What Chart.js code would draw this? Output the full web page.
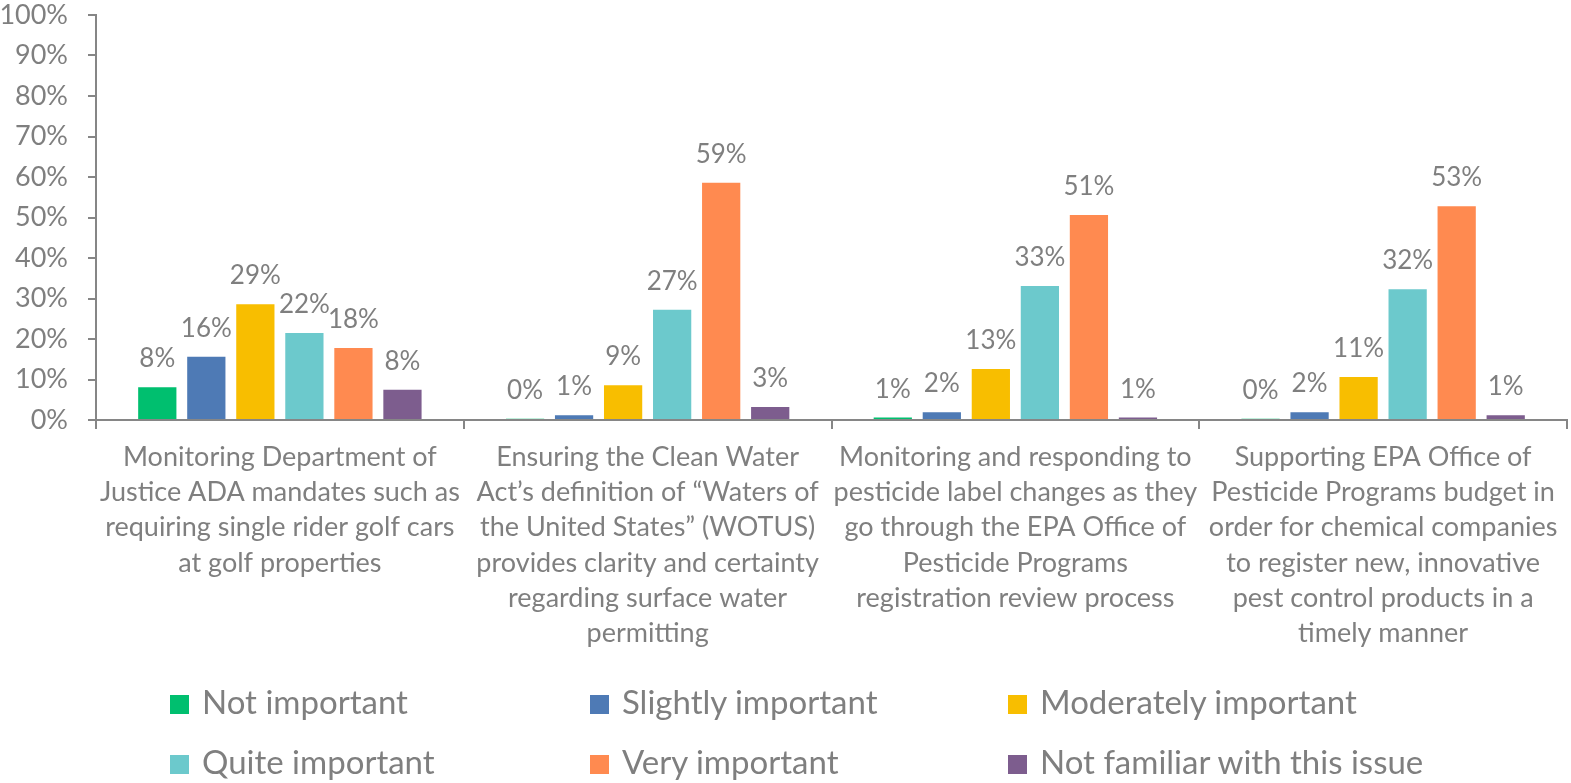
<!DOCTYPE html>
<html>
<head>
<meta charset="utf-8">
<script src="https://cdn.jsdelivr.net/npm/chart.js@4"></script>
<style>
  html, body { margin: 0; padding: 0; background: #fff; }
  #wrap { position: relative; width: 1571px; height: 783px; }
  #c { position: absolute; left: 0; top: 0; }
  .lg { position: absolute; font-family: Lato, "Open Sans", sans-serif; font-size: 33px; color: #7f7f7f; white-space: nowrap; line-height: 33px; }
  .lg span.box { display: inline-block; width: 19px; height: 19px; margin-right: 13px; vertical-align: 0px; }
</style>
</head>
<body>
<div id="wrap">
  <canvas id="c" width="1571" height="783"></canvas>
  <div id="legend"></div>
</div>
<script>
const categories = [
  ["Monitoring Department of", "Justice ADA mandates such as", "requiring single rider golf cars", "at golf properties"],
  ["Ensuring the Clean Water", "Act\u2019s definition of \u201cWaters of", "the United States\u201d (WOTUS)", "provides clarity and certainty", "regarding surface water", "permitting"],
  ["Monitoring and responding to", "pesticide label changes as they", "go through the EPA Office of", "Pesticide Programs", "registration review process"],
  ["Supporting EPA Office of", "Pesticide Programs budget in", "order for chemical companies", "to register new, innovative", "pest control products in a", "timely manner"]
];
const seriesNames = ["Not important", "Slightly important", "Moderately important", "Quite important", "Very important", "Not familiar with this issue"];
const seriesColors = ["#00BF6F", "#4E7AB5", "#F8BE00", "#6CC9CC", "#FF8A50", "#7D5D8E"];
const notImportant = [8.1, 0.3, 0.6, 0.3];
const slightlyImportant = [15.6, 1.2, 1.9, 1.9];
const moderatelyImportant = [28.6, 8.6, 12.6, 10.6];
const quiteImportant = [21.5, 27.2, 33.1, 32.3];
const veryImportant = [17.8, 58.6, 50.6, 52.8];
const notFamiliar = [7.5, 3.2, 0.6, 1.2];
const yTicks = [0, 10, 20, 30, 40, 50, 60, 70, 80, 90, 100];

const seriesValues = [notImportant, slightlyImportant, moderatelyImportant, quiteImportant, veryImportant, notFamiliar];
const GREY = "#7f7f7f";
const FONT = "Lato, 'Open Sans', sans-serif";

const valueLabels = {
  id: "valueLabels",
  afterDatasetsDraw(chart) {
    const ctx = chart.ctx;
    ctx.save();
    ctx.font = "26px " + FONT;
    ctx.fillStyle = GREY;
    ctx.textAlign = "center";
    ctx.textBaseline = "alphabetic";
    chart.data.datasets.forEach((ds, i) => {
      const meta = chart.getDatasetMeta(i);
      meta.data.forEach((bar, j) => {
        ctx.fillText(Math.round(ds.data[j]) + "%", bar.x, bar.y - 20);
      });
    });
    ctx.restore();
  }
};

new Chart(document.getElementById("c"), {
  type: "bar",
  data: {
    labels: categories,
    datasets: seriesNames.map((n, i) => ({
      label: n,
      data: seriesValues[i],
      backgroundColor: seriesColors[i],
      borderWidth: 0,
      categoryPercentage: 0.8,
      barPercentage: 0.78
    }))
  },
  options: {
    responsive: false,
    animation: false,
    layout: { padding: { top: 0, right: 4, left: 0, bottom: 0 } },
    plugins: { legend: { display: false }, tooltip: { enabled: false } },
    scales: {
      x: {
        grid: { display: true, offset: true, drawOnChartArea: false, drawTicks: true, tickLength: 9, color: "#868686", lineWidth: 2 },
        border: { display: true, color: "#868686", width: 2 },
        ticks: { color: GREY, font: { family: FONT, size: 27, lineHeight: 1.3 }, padding: 11, maxRotation: 0, autoSkip: false },
        afterFit(scale) { scale.height = 363; scale.paddingTop = 0; scale.paddingBottom = 0; }
      },
      y: {
        min: 0, max: 100,
        afterBuildTicks(scale) { scale.ticks = yTicks.map(v => ({ value: v })); },
        grid: { display: true, drawOnChartArea: false, drawTicks: true, tickLength: 8, color: "#868686", lineWidth: 2 },
        border: { display: true, color: "#868686", width: 2 },
        ticks: { color: GREY, font: { family: FONT, size: 27 }, padding: 20, callback: v => v + "%" },
        afterFit(scale) { scale.width = 96; scale.paddingTop = 15; scale.paddingBottom = 0; }
      }
    }
  },
  plugins: [valueLabels]
});

// Legend (HTML) built from the series names and colours
const legendCols = [170, 590, 1008];
const legendRows = [685, 745];
const lg = document.getElementById("legend");
seriesNames.forEach((n, i) => {
  const d = document.createElement("div");
  d.className = "lg";
  d.style.left = legendCols[i % 3] + "px";
  d.style.top = legendRows[Math.floor(i / 3)] + "px";
  d.innerHTML = '<span class="box" style="background:' + seriesColors[i] + '"></span>' + n;
  lg.appendChild(d);
});
</script>
</body>
</html>
